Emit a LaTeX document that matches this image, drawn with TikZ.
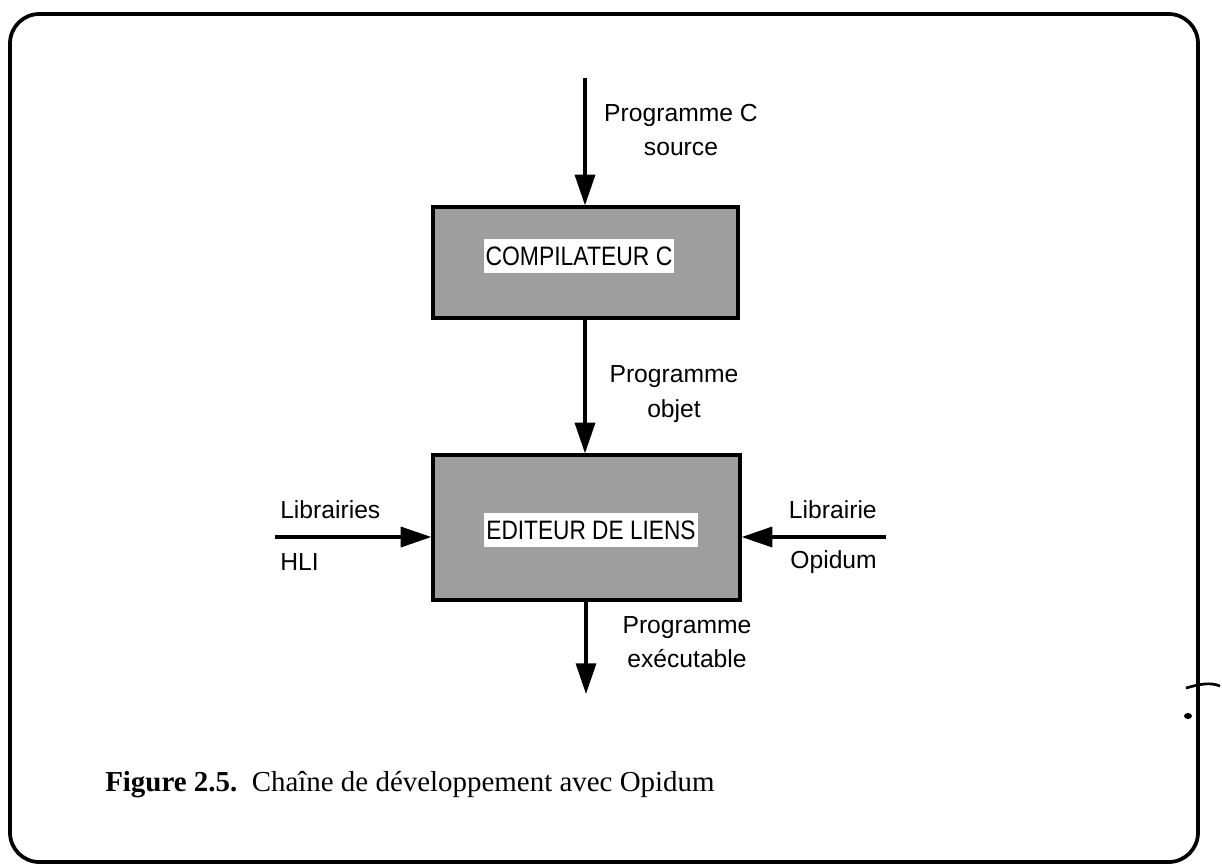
\documentclass[tikz,border=0pt]{standalone}
\usepackage{fontspec}
\setmainfont{Liberation Serif}
\newfontfamily\labfont{Liberation Sans}
\usetikzlibrary{arrows.meta}
\tikzset{
  procbox/.style={draw=black, line width=2.4pt, fill=black!38},
  boxtext/.style={fill=white, inner xsep=1.5pt, inner ysep=0pt, minimum height=25pt,
    font=\labfont\fontsize{20}{22}\selectfont},
  flow/.style={line width=2.5pt, -{Triangle[length=23pt,width=15pt]}},
  lbl/.style={font=\labfont\fontsize{18.5}{26}\selectfont, align=center, inner sep=0pt},
  sidelbl/.style={font=\labfont\fontsize{18.5}{20}\selectfont, inner sep=0pt},
  frame/.style={line width=2.8pt, rounded corners=22pt},
}
\begin{document}
\begin{tikzpicture}[x=0.75pt,y=-0.75pt]
\useasboundingbox (0,0) rectangle (1222,865);
% outer frame
\draw[frame] (10,14) rectangle (1198,862);
% scan marks at right
\draw[line width=2pt] (1186,688) .. controls (1200,684) and (1210,682) .. (1220,686);
\fill (1188,716) ellipse (4 and 3);

% boxes
\node[procbox, minimum width=228.75pt, minimum height=83.25pt] (comp) at (585.5,262.5) {};
\node[boxtext] (comptxt) at (579,256) {\scalebox{0.86}[1]{COMPILATEUR C}};
\node[procbox, minimum width=230.25pt, minimum height=108.75pt] (edit) at (586.5,527.5) {};
\node[boxtext] (edittxt) at (591,530) {\scalebox{0.85}[1]{EDITEUR DE LIENS}};

% coordinates of free ends
\coordinate (src) at (585,78);
\coordinate (out) at (586,694);
\coordinate (lin) at (275,537);
\coordinate (rin) at (886,537);

% connectors
\draw[flow] (src) -- (src |- comp.north);
\draw[flow] (comp.south -| src) -- (edit.north -| src);
\draw[flow] (edit.south -| out) -- (out);
\draw[flow] (lin) -- (lin -| edit.west);
\draw[flow] (rin) -- (rin -| edit.east);

% labels
\node[lbl] (lsrc) at (681,130) {Programme C\\source};
\node[lbl] (lobj) at (674,394) {Programme\\objet};
\node[lbl] (lexe) at (687,642) {Programme\\exécutable};
\node[sidelbl, anchor=west] (lhli1) at (280,510) {Librairies};
\node[sidelbl, anchor=west] (lhli2) at (280,562) {HLI};
\node[sidelbl, anchor=east] (lopi1) at (877,510) {Librairie};
\node[sidelbl, anchor=east] (lopi2) at (877,562) {Opidum};

% caption
\node[anchor=west, inner sep=0pt, font=\fontsize{21.7}{26}\selectfont] (cap) at (105,785)
  {\textbf{Figure 2.5.}\ \ Chaîne de développement avec Opidum};
\end{tikzpicture}
\end{document}
